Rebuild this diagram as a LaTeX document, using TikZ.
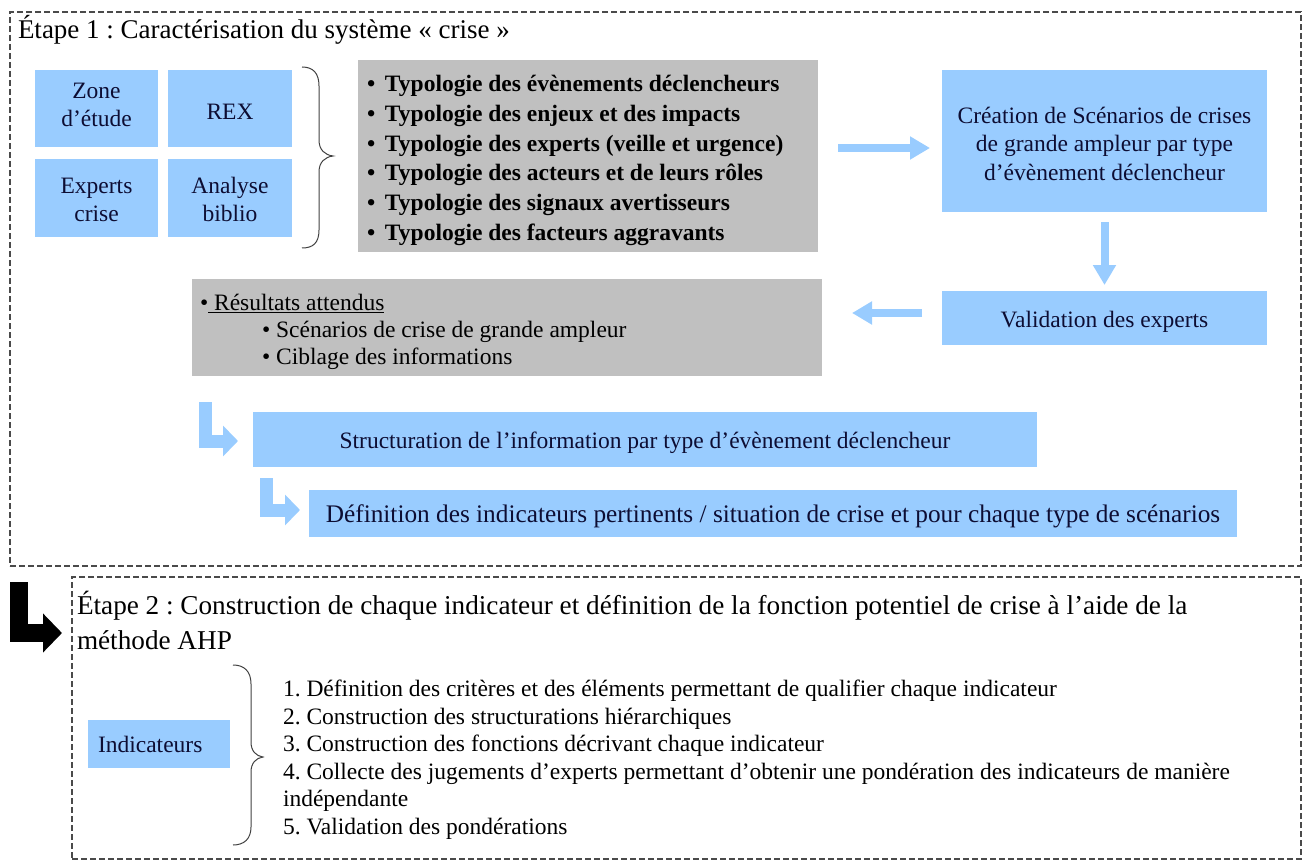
\documentclass[tikz,border=0pt]{standalone}
\usepackage{fontspec}
\setmainfont{Liberation Serif}
\usetikzlibrary{arrows.meta}
\definecolor{bluebox}{HTML}{99CCFF}
\definecolor{graybox}{HTML}{C0C0C0}
\definecolor{navy}{HTML}{0D0D33}
\definecolor{dashgray}{HTML}{4A4A4A}
\newcommand\fsA{\fontsize{23.5}{28}\selectfont}
\newcommand\fsB{\fontsize{27}{35}\selectfont}
\newcommand\lowstrut[1]{\rule[-0.3\baselineskip]{0pt}{\dimexpr\baselineskip+#1pt*2\relax}}
\newcommand\highstrut[1]{\rule[\dimexpr-0.3\baselineskip-#1pt*2\relax]{0pt}{\dimexpr\baselineskip+#1pt*2\relax}}
\frenchspacing
\begin{document}
\frenchspacing
\begin{tikzpicture}[x=1pt,y=-1pt,
  every node/.style={inner sep=0pt, outer sep=0pt},
  sh/.style={execute at begin node={\lowstrut{#1}}, execute at end node={\strut}},
  sh/.default=0,
  shu/.style={execute at begin node={\strut}, execute at end node={\highstrut{#1}}},
  dashbox/.style={draw=dashgray, line width=1.1pt, dash pattern=on 6pt off 3pt},
  bluefill/.style={fill=bluebox, text=navy, font=\fsA, align=flush center},
  grayfill/.style={fill=graybox, text=black, align=flush left},
  bluearrow/.style={draw=bluebox, line width=8pt, -{Triangle[width=22pt,length=20pt]}},
  bentarrow/.style={draw=bluebox, line width=13pt, line join=miter, -{Triangle[width=30pt,length=15pt]}},
  bracestyle/.style={draw=black!75, line width=1pt},
  plain/.style={text=black, align=flush left}
]
\useasboundingbox (0,0) rectangle (1303,861);

% dashed frames
\node[dashbox, minimum width=1291pt, minimum height=554pt] (stage1) at (655.5,289) {};
\node[dashbox, minimum width=1229pt, minimum height=282pt] (stage2) at (686.5,718) {};

% titles
\node[plain, anchor=west, font=\fsB, sh=2] (title1) at (18,30) {Étape 1 : Caractérisation du système « crise »};
\node[plain, anchor=west, font=\fontsize{27.2}{35}\selectfont, sh=2, text width=1200pt] (title2) at (77,622.5) {Étape 2 : Construction de chaque indicateur et définition de la fonction potentiel de crise à l’aide de la\\méthode AHP};

% sources
\node[bluefill, shu=2, text width=120pt, minimum width=123pt, minimum height=77pt] (zone) at (96.5,108.5) {Zone\\d’étude};
\node[bluefill, sh=5, minimum width=124pt, minimum height=77pt] (rex) at (230,108.5) {REX};
\node[bluefill, sh=4, text width=120pt, minimum width=123pt, minimum height=78pt] (experts) at (96.5,198) {Experts\\crise};
\node[bluefill, sh=4, text width=120pt, minimum width=124pt, minimum height=78pt] (biblio) at (230,198) {Analyse\\biblio};

% brace 1
\draw[bracestyle] (302,67) .. controls (313,67) and (319,73) .. (319,86) -- (319,140)
  .. controls (319,150) and (325,155) .. (333,156)
  .. controls (325,157) and (319,162) .. (319,172) -- (319,230)
  .. controls (319,243) and (313,248) .. (302,248);

% typologies
\node[grayfill, sh=4, minimum width=460pt, minimum height=192pt, text width=442pt,
  font=\fontsize{23.5}{29.8}\selectfont\bfseries] (typo) at (588,156)
  {\makebox[18pt][l]{•}Typologie des évènements déclencheurs\\
   \makebox[18pt][l]{•}Typologie des enjeux et des impacts\\
   \makebox[18pt][l]{•}Typologie des experts (veille et urgence)\\
   \makebox[18pt][l]{•}Typologie des acteurs et de leurs rôles\\
   \makebox[18pt][l]{•}Typologie des signaux avertisseurs\\
   \makebox[18pt][l]{•}Typologie des facteurs aggravants};

\node[bluefill, sh=5, text width=320pt, minimum width=325pt, minimum height=142pt, font=\fontsize{23.5}{28.5}\selectfont] (crea) at (1104.5,141)
  {Création de Scénarios de crises\\de grande ampleur par type\\d’évènement déclencheur};
\node[bluefill, sh=4, minimum width=325pt, minimum height=54pt] (valid) at (1104.5,318) {Validation des experts};

\node[grayfill, sh=5, minimum width=630pt, minimum height=97pt, text width=614pt,
  font=\fontsize{23.5}{27}\selectfont] (res) at (507,327.5)
  {•\underline{\ Résultats attendus}\\
   \hspace*{62pt}• Scénarios de crise de grande ampleur\\
   \hspace*{62pt}• Ciblage des informations};

\node[bluefill, sh=3, minimum width=784pt, minimum height=55pt] (struct) at (645,439.5)
  {Structuration de l’information par type d’évènement déclencheur};
\node[bluefill, sh=3, minimum width=928pt, minimum height=47pt, font=\fontsize{25.3}{28}\selectfont] (defi) at (773,513.5)
  {Définition des indicateurs pertinents / situation de crise et pour chaque type de scénarios};

% straight arrows
\draw[bluearrow, shorten <=20pt, shorten >=12pt] ([yshift=8pt]typo.east) -- ([yshift=-7pt]crea.west);
\draw[bluearrow, shorten <=10pt, shorten >=6pt] (crea.south) -- (valid.north);
\draw[bluearrow, shorten <=20pt, shorten >=30pt] ([yshift=5pt]valid.west) -- ([yshift=14.5pt]res.east);

% bent arrows
\coordinate (b1) at (205,402);
\coordinate (b2) at (266,478);
\draw[bentarrow] (b1) |- ([xshift=-15pt,yshift=-1.5pt]struct.west);
\draw[bentarrow] (b2) |- ([xshift=-9pt,yshift=3.5pt]defi.west);

% black arrow between stages
\coordinate (k1) at (19,582);
\coordinate (k2) at (62,633);
\draw[draw=black, line width=18pt, line join=miter, -{Triangle[width=38pt,length=19pt]}] (k1) |- (k2);

% stage 2
\node[bluefill, sh=3, minimum width=142pt, minimum height=48pt, text width=122pt, align=flush left] (indic) at (159,744) {Indicateurs};

\draw[bracestyle] (233,665) .. controls (244,665) and (251,671) .. (251,684) -- (251,742)
  .. controls (251,751) and (256,756) .. (263,757)
  .. controls (256,758) and (251,763) .. (251,772) -- (251,827)
  .. controls (251,839) and (244,845) .. (233,845);

\node[plain, anchor=west, sh=3, text width=1000pt, font=\fontsize{23.5}{27.6}\selectfont] (steps) at (283,757)
  {1. Définition des critères et des éléments permettant de qualifier chaque indicateur\\
   2. Construction des structurations hiérarchiques\\
   3. Construction des fonctions décrivant chaque indicateur\\
   4. Collecte des jugements d’experts permettant d’obtenir une pondération des indicateurs de manière\\
   indépendante\\
   5. Validation des pondérations};
\end{tikzpicture}
\end{document}
